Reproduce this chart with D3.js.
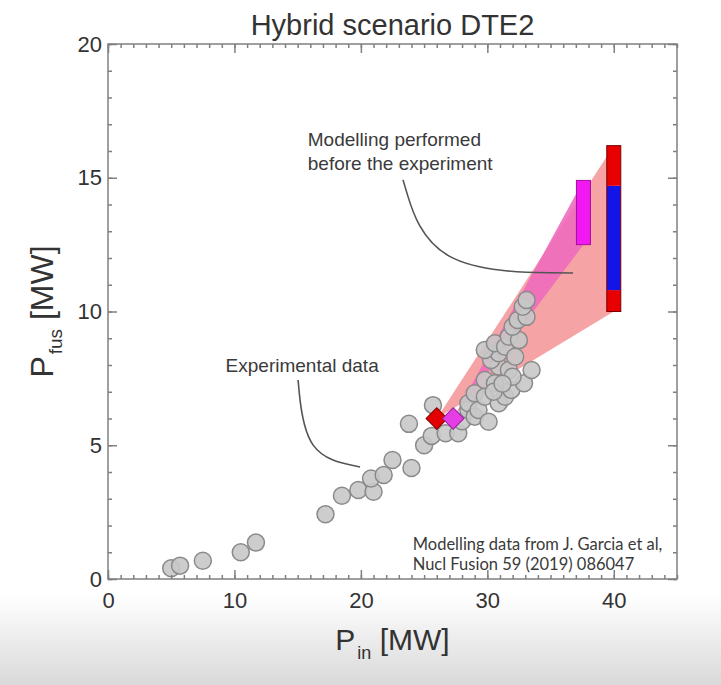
<!DOCTYPE html>
<html>
<head>
<meta charset="utf-8">
<script src="https://cdn.jsdelivr.net/npm/d3@7"></script>
<style>
  body { margin: 0; background: #fff; }
  svg { display: block; }
</style>
</head>
<body>
<svg id="chart" width="721" height="685"></svg>
<script>
// Experimental shots: input power vs fusion power (MW)
const expPin = [5.0, 5.7, 7.5, 10.5, 11.7, 17.2, 18.5, 19.8, 21.0, 20.8, 21.8, 22.5,
  24.0, 23.8, 25.0, 25.6, 25.7, 26.7, 27.7, 28.0, 28.5, 28.5, 29.0, 29.0, 29.3,
  29.8, 30.1, 29.8, 30.6, 30.9, 31.4, 31.9, 32.9, 33.5, 30.9, 31.7, 32.0, 30.3,
  30.9, 29.8, 30.6, 31.4, 32.2, 31.7, 32.5, 32.0, 32.4, 33.1, 32.8, 33.1, 30.5, 31.2];
const expPfus = [0.40, 0.50, 0.68, 1.00, 1.36, 2.42, 3.11, 3.33, 3.26, 3.76, 3.89, 4.45,
  4.15, 5.80, 5.00, 5.35, 6.50, 5.45, 5.45, 5.90, 6.32, 6.57, 6.07, 6.94, 6.32,
  6.81, 5.88, 7.44, 7.32, 6.57, 6.81, 7.07, 7.32, 7.81, 7.94, 7.81, 7.56, 8.19,
  8.44, 8.56, 8.81, 8.68, 8.31, 9.06, 8.93, 9.43, 9.68, 9.80, 10.18, 10.43, 7.00, 7.30];

// Modelling: starting points (diamonds) and predicted ranges (bars)
const startPin = [26.0, 27.3];
const startPfus = [6.0, 6.0];
const magentaBarPin = 37.6;
const magentaBarRange = [12.5, 14.9];
const redBarPin = 40;
const redBarBounds = [10.0, 10.8, 14.7, 16.2];

const xTicks = [0, 10, 20, 30, 40];
const yTicks = [0, 5, 10, 15, 20];
const xMinorTicks = d3.range(0, 46, 1);
const yMinorTicks = d3.range(0, 21, 1);

// Styles
const axisColor = '#808080';
const textColor = '#333';
const startColors = ['#e30000', '#e43ee4'];
const startStrokes = ['#8a0000', '#9a209a'];
const barColors = ['#e80000', '#1414e6', '#e80000'];
const fontMain = "'Liberation Sans', Arial, Helvetica, sans-serif";

let svg = d3.select('#chart');

// Background with grey band at the bottom (video frame)
let defs = svg.append('defs');
let bg = defs.append('linearGradient')
  .attr('id', 'bottom-band')
  .attr('x1', '0%').attr('x2', '0%')
  .attr('y1', '0%').attr('y2', '100%');
bg.append('stop').attr('offset', 0).attr('stop-color', '#ffffff');
bg.append('stop').attr('offset', 1).attr('stop-color', '#d9d9d9');

svg.append('rect')
  .attr('width', 721).attr('height', 685)
  .style('fill', '#fff');
svg.append('rect')
  .attr('y', 595).attr('width', 721).attr('height', 90)
  .style('fill', 'url(#bottom-band)');

let x = d3.scaleLinear().domain([0, 45]).range([108, 677]);
let y = d3.scaleLinear().domain([0, 20]).range([579, 44]);

// Shaded prediction wedges
let poly = d3.line().x(d => x(d[0])).y(d => y(d[1]));

svg.append('path')
  .attr('d', poly([[startPin[0], startPfus[0]],
    [redBarPin, redBarBounds[3]],
    [redBarPin, redBarBounds[0]]]) + 'Z')
  .style('fill', '#f6a3a6');

svg.append('path')
  .attr('d', poly([[startPin[1], startPfus[1]],
    [magentaBarPin, magentaBarRange[1]],
    [magentaBarPin, magentaBarRange[0]]]) + 'Z')
  .style('fill', '#ee6cbc')
  .style('opacity', 0.9);

// Experimental points
svg.append('g')
  .selectAll('circle')
  .data(expPin.map((p, i) => [p, expPfus[i]]))
  .join('circle')
  .attr('cx', d => x(d[0]))
  .attr('cy', d => y(d[1]))
  .attr('r', 8.5)
  .style('fill', '#c8c8c8')
  .style('fill-opacity', 0.9)
  .style('stroke', '#8a8a8a')
  .style('stroke-width', 1.5);

// Modelling start points
let diamond = d3.symbol().type(d3.symbolSquare).size(230);
svg.append('g')
  .selectAll('path')
  .data(startPin.map((p, i) => [p, startPfus[i], i]))
  .join('path')
  .attr('d', diamond)
  .attr('transform', d => `translate(${x(d[0])},${y(d[1])}) rotate(45)`)
  .style('fill', d => startColors[d[2]])
  .style('stroke', d => startStrokes[d[2]])
  .style('stroke-width', 1);

// Predicted ranges
let barW = 14;
svg.append('rect')
  .attr('x', x(magentaBarPin) - barW / 2)
  .attr('y', y(magentaBarRange[1]))
  .attr('width', barW)
  .attr('height', y(magentaBarRange[0]) - y(magentaBarRange[1]))
  .style('fill', '#f218f2')
  .style('stroke', '#a0109a')
  .style('stroke-width', 1);

svg.append('g')
  .selectAll('rect')
  .data(d3.pairs(redBarBounds))
  .join('rect')
  .attr('x', x(redBarPin) - barW / 2)
  .attr('y', d => y(d[1]))
  .attr('width', barW)
  .attr('height', d => y(d[0]) - y(d[1]))
  .style('fill', (d, i) => barColors[i]);

svg.append('rect')
  .attr('x', x(redBarPin) - barW / 2)
  .attr('y', y(redBarBounds[3]))
  .attr('width', barW)
  .attr('height', y(redBarBounds[0]) - y(redBarBounds[3]))
  .style('fill', 'none')
  .style('stroke', '#7a0000')
  .style('stroke-width', 1);

// Axes: ticks inward on all four sides
const drawAxis = (axisFn, scale, values, size, transform, labels) => {
  let g = svg.append('g')
    .attr('transform', transform)
    .call(axisFn(scale)
      .tickValues(values)
      .tickSize(-size)
      .tickPadding(axisFn === d3.axisBottom ? 13 : 6)
      .tickFormat(labels ? d3.format('d') : ''));
  g.select('.domain').remove();
  g.selectAll('line')
    .style('stroke', axisColor)
    .style('stroke-width', 1.5);
  g.selectAll('text')
    .style('font-family', fontMain)
    .style('font-size', '22px')
    .style('fill', textColor);
  return g;
};

drawAxis(d3.axisBottom, x, xMinorTicks, 4, `translate(0,${y(0)})`, false);
drawAxis(d3.axisBottom, x, xTicks, 9, `translate(0,${y(0)})`, true);
drawAxis(d3.axisTop, x, xMinorTicks, 4, `translate(0,${y(20)})`, false);
drawAxis(d3.axisTop, x, xTicks, 9, `translate(0,${y(20)})`, false);
drawAxis(d3.axisLeft, y, yMinorTicks, 4, `translate(${x(0)},0)`, false);
drawAxis(d3.axisLeft, y, yTicks, 9, `translate(${x(0)},0)`, true);
drawAxis(d3.axisRight, y, yMinorTicks, 4, `translate(${x(45)},0)`, false);
drawAxis(d3.axisRight, y, yTicks, 9, `translate(${x(45)},0)`, false);

svg.append('rect')
  .attr('x', x(0)).attr('y', y(20))
  .attr('width', x(45) - x(0))
  .attr('height', y(0) - y(20))
  .style('fill', 'none')
  .style('stroke', axisColor)
  .style('stroke-width', 1.5);

// Title
svg.append('text')
  .attr('x', (x(0) + x(45)) / 2)
  .attr('y', 35)
  .attr('text-anchor', 'middle')
  .style('font-family', fontMain)
  .style('font-size', '29px')
  .style('fill', textColor)
  .text('Hybrid scenario DTE2');

// Axis titles with subscripts
const axisTitle = (g, sub, size, subSize) => {
  let t = g.append('text')
    .attr('text-anchor', 'middle')
    .style('font-family', fontMain)
    .style('font-size', size)
    .style('fill', textColor);
  t.append('tspan').text('P');
  t.append('tspan').attr('dx', 2).attr('dy', 9).style('font-size', subSize).text(sub);
  t.append('tspan').attr('dy', -9).text(' [MW]');
};

axisTitle(svg.append('g')
  .attr('transform', `translate(${(x(0) + x(45)) / 2},650)`), 'in', '30px', '18px');
axisTitle(svg.append('g')
  .attr('transform', `translate(53,${(y(0) + y(20)) / 2}) rotate(-90)`), 'fus', '32px', '19px');

// Annotations
const note = (lines, px, py, size, family, lineGap) => {
  let t = svg.append('text')
    .attr('x', x(px)).attr('y', y(py))
    .style('font-family', family)
    .style('font-size', size)
    .style('fill', '#3a3a3a');
  lines.forEach((l, i) => {
    t.append('tspan')
      .attr('x', x(px))
      .attr('dy', i === 0 ? 0 : lineGap)
      .text(l);
  });
};

note(['Modelling performed', 'before the experiment'], 15.8, 16.2, '19px', fontMain, 24);
note(['Experimental data'], 9.3, 7.74, '19px', fontMain, 0);
note(['Modelling data from J. Garcia et al,', 'Nucl Fusion 59 (2019) 086047'],
  24.1, 1.08, '16.5px', "Lato, 'Open Sans', sans-serif", 20);

let curve = d3.line().x(d => x(d[0])).y(d => y(d[1])).curve(d3.curveBasis);
const leader = (pts) => {
  svg.append('path')
    .attr('d', curve(pts))
    .style('fill', 'none')
    .style('stroke', '#555')
    .style('stroke-width', 1.6);
};
leader([[15.03, 7.44], [15.03, 7.44], [15.6, 4.6], [19.93, 4.19], [19.93, 4.19]]);
leader([[23.33, 14.92], [23.33, 14.92], [25.5, 11.5], [36.78, 11.44], [36.78, 11.44]]);
</script>
</body>
</html>
